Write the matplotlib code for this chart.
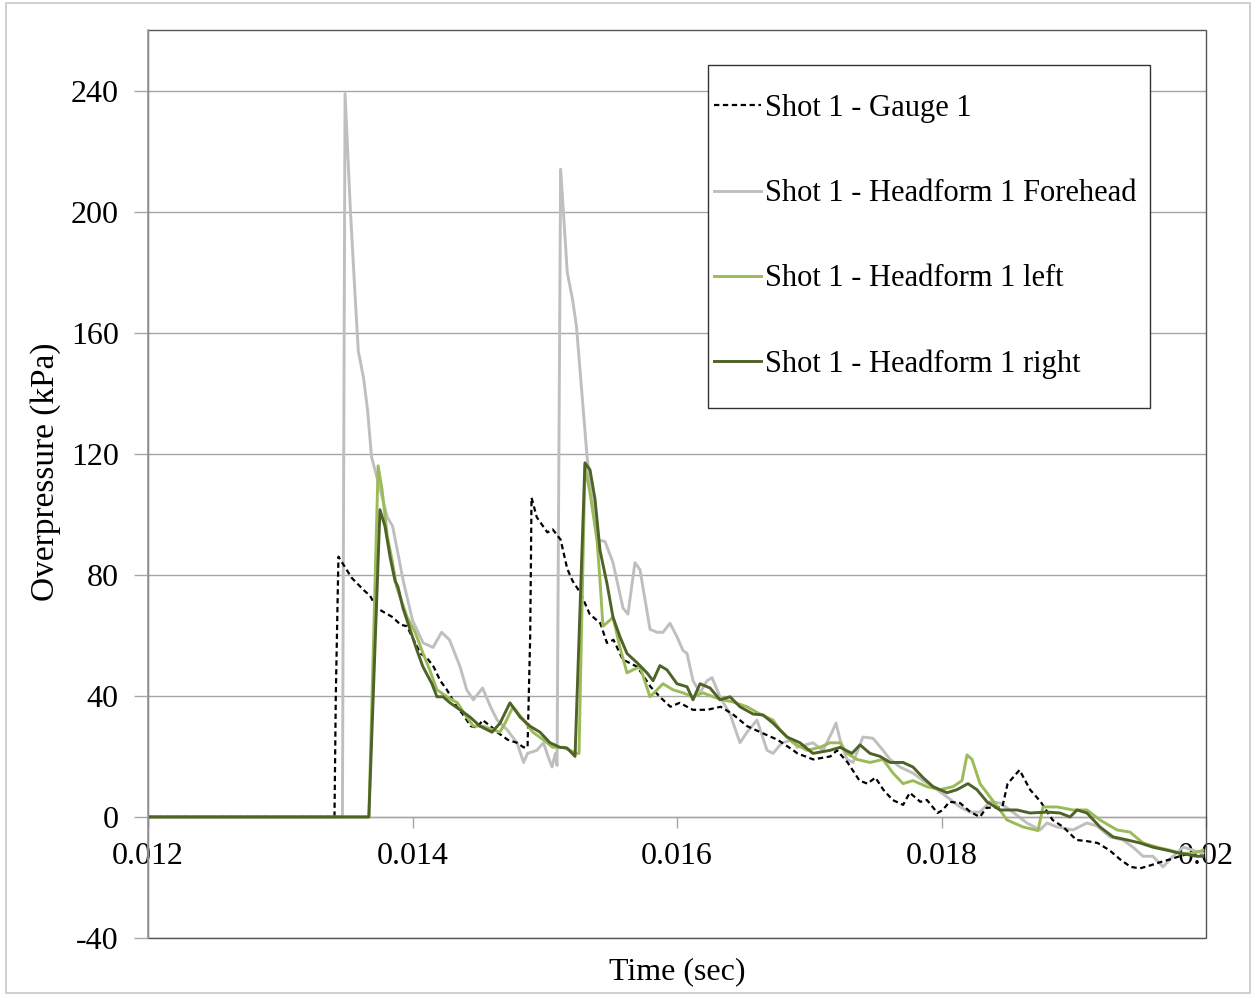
import numpy as np
import matplotlib
matplotlib.use("Agg")
import matplotlib.pyplot as plt
from matplotlib.patches import Rectangle

plt.rcParams['font.family'] = ['Liberation Serif', 'DejaVu Serif']
plt.rcParams['axes.unicode_minus'] = False

# time in ms, overpressure in kPa
gauge_t = [12.0, 13.41, 13.42, 13.44, 13.54, 13.63, 13.68, 13.73, 13.81, 13.85, 13.91, 13.96,
           13.98, 14.06, 14.11, 14.16, 14.21, 14.26, 14.34, 14.38, 14.44, 14.49, 14.53, 14.59,
           14.64, 14.72, 14.79, 14.84, 14.87, 14.89, 14.90, 14.94, 15.02, 15.06, 15.12, 15.17,
           15.21, 15.27, 15.34, 15.42, 15.47, 15.52, 15.59, 15.70, 15.80, 15.87, 15.95, 16.02,
           16.12, 16.23, 16.33, 16.42, 16.53, 16.63, 16.76, 16.88, 16.91, 17.03, 17.16, 17.21,
           17.29, 17.38, 17.44, 17.50, 17.56, 17.63, 17.71, 17.76, 17.84, 17.89, 17.97, 18.01,
           18.06, 18.14, 18.22, 18.29, 18.34, 18.46, 18.50, 18.59, 18.67, 18.75, 18.84, 18.92,
           19.02, 19.10, 19.18, 19.27, 19.35, 19.43, 19.50, 19.58, 19.65, 19.73, 19.80, 19.88,
           19.98]
gauge_p = [0, 0, 40, 86, 79, 75, 73, 69, 67, 66, 63.5, 63,
           61, 54, 52.5, 49.6, 45, 42, 36, 34, 30, 29.5, 32, 30,
           28, 25.5, 24.5, 23, 23, 60, 105.5, 99, 94, 95, 91.6, 82,
           78, 74, 67, 64, 57.5, 58.5, 52, 49.6, 43, 39.7, 36.4, 37.7,
           35.4, 35.4, 36.4, 34, 30, 28, 25.5, 22, 21, 19, 20, 22,
           18, 12, 11, 13, 9, 5.6, 4, 8, 5, 5.6, 1.3, 2.3,
           5, 4.6, 1.6, 0, 3, 3.3, 11, 15.5, 9, 5, -1, -3.3,
           -7.6, -8, -8.6, -11, -14, -16.5, -17, -16, -15, -14, -13, -12,
           -13]

fore_t = [12.0, 13.45, 13.47, 13.49, 13.53, 13.565, 13.59, 13.63, 13.66, 13.69, 13.81, 13.85,
          13.93, 14.00, 14.08, 14.155, 14.22, 14.28, 14.36, 14.41, 14.46, 14.53, 14.59, 14.64,
          14.715, 14.79, 14.84, 14.87, 14.94, 14.99, 15.025, 15.055, 15.08, 15.093, 15.12, 15.14,
          15.17, 15.21, 15.24, 15.32, 15.395, 15.456, 15.516, 15.592, 15.629, 15.682, 15.72, 15.796,
          15.849, 15.894, 15.947, 16.0, 16.045, 16.076, 16.121, 16.174, 16.227, 16.265, 16.325, 16.401,
          16.476, 16.529, 16.605, 16.681, 16.726, 16.794, 16.877, 16.907, 17.028, 17.104, 17.172, 17.202,
          17.233, 17.285, 17.331, 17.406, 17.482, 17.558, 17.611, 17.686, 17.784, 17.86, 17.936, 18.042,
          18.14, 18.215, 18.291, 18.367, 18.442, 18.518, 18.646, 18.745, 18.798, 18.873, 18.994, 19.1,
          19.176, 19.274, 19.372, 19.448, 19.524, 19.599, 19.675, 19.75, 19.826, 19.902, 19.977]
fore_p = [0, 0, 0, 239, 200.7, 173, 154, 145, 134.5, 119, 99, 96,
          78, 65, 57.5, 56, 61, 58.5, 49.6, 42, 38.7, 42.6, 36.4, 32,
          28.8, 24.5, 18, 21, 22, 24.5, 20, 16.5, 21, 17, 214, 200.7,
          180, 171, 162, 119, 91.6, 91, 84, 69, 67, 84, 81.7, 62,
          61, 61, 64, 59.5, 55, 54, 45, 41, 45, 46, 39.7, 34,
          24.5, 28, 32, 22, 21, 24.5, 25.5, 23, 24.5, 22, 28, 31,
          25.5, 19, 18, 26.4, 26, 22, 19, 16.5, 14.5, 12, 10, 6.6,
          3.3, 1.6, 1.6, 5, 4.6, 2.3, -2, -4.3, -2, -3.3, -4.3, -2,
          -3, -6.6, -7.6, -10, -13, -13, -16.5, -13, -10, -11, -12]

left_t = [12.0, 13.67, 13.74, 13.77, 13.81, 13.845, 13.88, 13.96, 14.02, 14.08, 14.13, 14.185,
          14.26, 14.34, 14.41, 14.46, 14.53, 14.61, 14.66, 14.70, 14.76, 14.84, 14.91, 14.99,
          15.06, 15.14, 15.19, 15.244, 15.259, 15.304, 15.342, 15.395, 15.418, 15.44, 15.493, 15.516,
          15.569, 15.622, 15.667, 15.72, 15.796, 15.849, 15.894, 15.97, 16.045, 16.121, 16.197, 16.272,
          16.348, 16.423, 16.529, 16.628, 16.726, 16.779, 16.877, 16.983, 17.081, 17.157, 17.233, 17.285,
          17.361, 17.459, 17.558, 17.633, 17.709, 17.784, 17.89, 17.989, 18.087, 18.155, 18.193, 18.231,
          18.291, 18.367, 18.442, 18.495, 18.616, 18.73, 18.767, 18.873, 18.994, 19.1, 19.198, 19.327,
          19.425, 19.524, 19.629, 19.728, 19.803, 19.902, 19.977]
left_p = [0, 0, 116, 108, 92.6, 85, 76, 66, 61, 54, 48.6, 42,
          39.7, 37.7, 33, 30, 30, 28.8, 28, 31, 36.4, 32, 28, 25.5,
          23, 23, 22, 21, 21, 116, 107, 91.6, 78, 63, 65, 66,
          56, 47.6, 48.6, 49.6, 39.7, 42, 44, 42, 41, 39.7, 41, 39.7,
          38.7, 38, 36.4, 34, 32, 28.8, 24.5, 22, 23, 24.5, 24.5, 21,
          19, 18, 19, 14.5, 11, 12, 10, 9, 10, 12, 20.5, 19,
          11, 6.6, 2.3, -1, -3.3, -4.5, 3.3, 3.3, 2.3, 2.3, -1, -4.3,
          -5, -8.6, -10, -11, -12, -12, -11]

right_t = [12.0, 13.67, 13.754, 13.792, 13.83, 13.868, 13.89, 13.928, 13.981, 14.034, 14.079, 14.147,
           14.185, 14.231, 14.284, 14.359, 14.435, 14.51, 14.601, 14.662, 14.737, 14.813, 14.888, 14.964,
           15.04, 15.115, 15.168, 15.229, 15.304, 15.342, 15.38, 15.418, 15.471, 15.516, 15.569, 15.622,
           15.697, 15.773, 15.819, 15.871, 15.924, 16.0, 16.076, 16.121, 16.174, 16.25, 16.325, 16.401,
           16.476, 16.575, 16.65, 16.726, 16.832, 16.93, 17.028, 17.157, 17.233, 17.323, 17.384, 17.459,
           17.535, 17.611, 17.709, 17.784, 17.86, 17.936, 18.042, 18.117, 18.2, 18.268, 18.344, 18.442,
           18.518, 18.571, 18.669, 18.798, 18.896, 18.972, 19.025, 19.1, 19.198, 19.297, 19.403, 19.501,
           19.599, 19.705, 19.803, 19.932, 19.977]
right_p = [0, 0, 101.5, 96, 86, 78, 76, 69, 62, 55, 49.6, 44,
           39.7, 39.7, 37.7, 35.4, 33, 30, 28, 31, 37.7, 33, 30, 28,
           24.5, 23, 22.8, 20, 117, 114.7, 105, 88, 77, 66, 59.5, 54,
           51, 47.6, 45, 50, 48.6, 44, 43, 38.7, 44, 42.6, 38.7, 39.7,
           36.4, 34, 33.7, 31, 26.4, 24.5, 21, 22, 23, 21, 23.8, 21,
           20, 18, 18, 16.5, 13, 10, 8, 9, 11, 9, 5, 2.3,
           2.3, 2.3, 1.3, 1.6, 1.3, 0, 2.3, 1.3, -3.3, -6.6, -7.6, -8.6,
           -10, -11, -12, -13, -13]

labels = ['Shot 1 - Gauge 1', 'Shot 1 - Headform 1 Forehead',
          'Shot 1 - Headform 1 left', 'Shot 1 - Headform 1 right']
y_ticks = [-40, 0, 40, 80, 120, 160, 200, 240]
x_ticks = [0.012, 0.014, 0.016, 0.018, 0.02]
x_ticklabels = ['0.012', '0.014', '0.016', '0.018', '0.02']

fig = plt.figure(figsize=(12.56, 9.97), dpi=100)
ax = fig.add_axes([148 / 1256, 1 - 938 / 997, 1058 / 1256, 908 / 997])

# outer chart border
fig.patches.append(Rectangle((6 / 1256, 4 / 997), 1244 / 1256, 990 / 997, transform=fig.transFigure,
                             fill=False, edgecolor='#c8c8c8', linewidth=1.2))

ms = lambda t: np.array(t) / 1000.0
ax.plot(ms(gauge_t), gauge_p, color='black', linestyle=(0, (2.4, 1.6)), linewidth=1.6, label=labels[0], zorder=3)
ax.plot(ms(fore_t), fore_p, color='#bfbfbf', linewidth=2.1, label=labels[1], zorder=2)
ax.plot(ms(left_t), left_p, color='#9bbb59', linewidth=2.1, label=labels[2], zorder=4)
ax.plot(ms(right_t), right_p, color='#4f6228', linewidth=2.1, label=labels[3], zorder=5)

ax.set_xlim(0.012, 0.02)
ax.set_ylim(-40, 260)
ax.set_yticks(y_ticks)
ax.set_xticks(x_ticks)
ax.set_xticklabels(x_ticklabels)
ax.yaxis.grid(True, color='#a6a6a6', linewidth=1.0)
ax.set_axisbelow(True)

for s in ['top', 'right', 'left']:
    ax.spines[s].set_visible(False)
ax.spines['bottom'].set_position(('data', 0))
ax.spines['bottom'].set_color('#a6a6a6')
ax.spines['bottom'].set_linewidth(1.0)
ax.add_patch(Rectangle((0, 0), 1, 1, transform=ax.transAxes, fill=False,
                       edgecolor='#555555', linewidth=1.0, clip_on=False, zorder=6))
ax.plot([0, 0], [0, 1], transform=ax.transAxes, color='#9a9a9a', linewidth=1.2, clip_on=False, zorder=7)

ax.tick_params(axis='y', direction='out', length=10, width=1, color='#a6a6a6', pad=11, labelsize=23)
ax.tick_params(axis='x', direction='out', length=8, width=1, color='#a6a6a6', pad=10, labelsize=23)

ax.set_ylabel('Overpressure (kPa)', fontsize=24, va='center')
ax.yaxis.set_label_coords(-0.097, 0.513)
ax.set_xlabel('Time (sec)', fontsize=23, va='center')
ax.xaxis.set_label_coords(0.5, -0.037)

# legend frame drawn separately so the side padding can be tight
ax.add_patch(Rectangle((560 / 1058, (938 - 408) / 908), 442 / 1058, 343 / 908, transform=ax.transAxes,
                       facecolor='white', edgecolor='#333333', linewidth=1.0, zorder=8))
leg = ax.legend(loc='upper left', bbox_to_anchor=(566 / 1058, (938 - 94) / 908), borderaxespad=0,
                fontsize=22, handlelength=1.55, handletextpad=0.12, labelspacing=1.84, borderpad=0,
                frameon=False)
leg.set_zorder(9)

fig.savefig('out.png', dpi=100)
